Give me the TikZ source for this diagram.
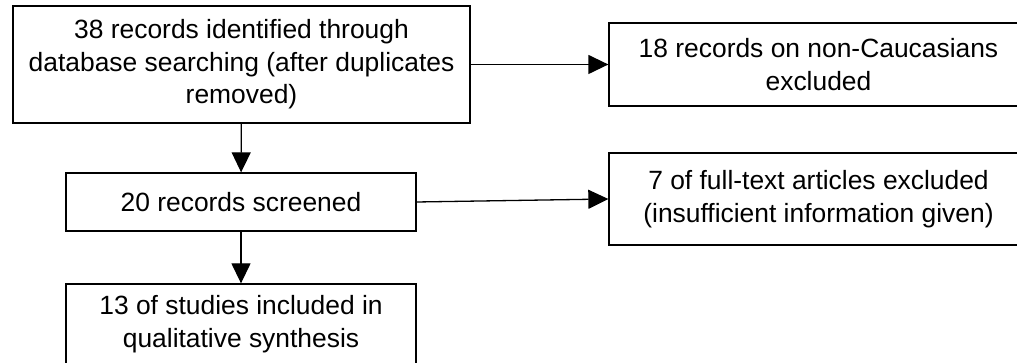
\documentclass[tikz,border=0pt]{standalone}
\usepackage{fontspec}
\setmainfont{Liberation Sans}
\usetikzlibrary{arrows.meta}
\tikzset{
	flowbox/.style={draw, line width=1.3pt, inner sep=0pt, align=center, font=\fontsize{26.4}{32.5}\selectfont},
	flowarrow/.style={line width=1.3pt, -{Triangle[length=20pt,width=19pt]}}
}
\begin{document}
\begin{tikzpicture}[x=1pt,y=1pt]
		\useasboundingbox (0,0) rectangle (1017,363);
		\clip (0,0) rectangle (1017,363);
		\node[flowbox, minimum width=457pt, minimum height=117pt] (ID) at (241.5,298.5) {38 records identified through\\database searching (after duplicates\\removed)};
		\node[flowbox, minimum width=350pt, minimum height=58pt] (SC) at (241,161) {20 records screened};
		\node[flowbox, minimum width=350pt, minimum height=80pt] (IN) at (241,39) {13 of studies included in\\qualitative synthesis};
		\node[flowbox, minimum width=419pt, minimum height=83pt] (EX1) at (818.5,298.5) {18 records on non-Caucasians\\excluded};
		\node[flowbox, minimum width=419pt, minimum height=92pt] (EX2) at (818.5,164) {7 of full-text articles excluded\\(insufficient information given)};
		\draw[flowarrow] (ID) -- (SC);
		\draw[flowarrow] (SC) -- (IN);
		\draw[flowarrow] (ID.east) -- (EX1.west);
		\draw[flowarrow] (SC.east) -- (EX2.west);
\end{tikzpicture}
\end{document}
